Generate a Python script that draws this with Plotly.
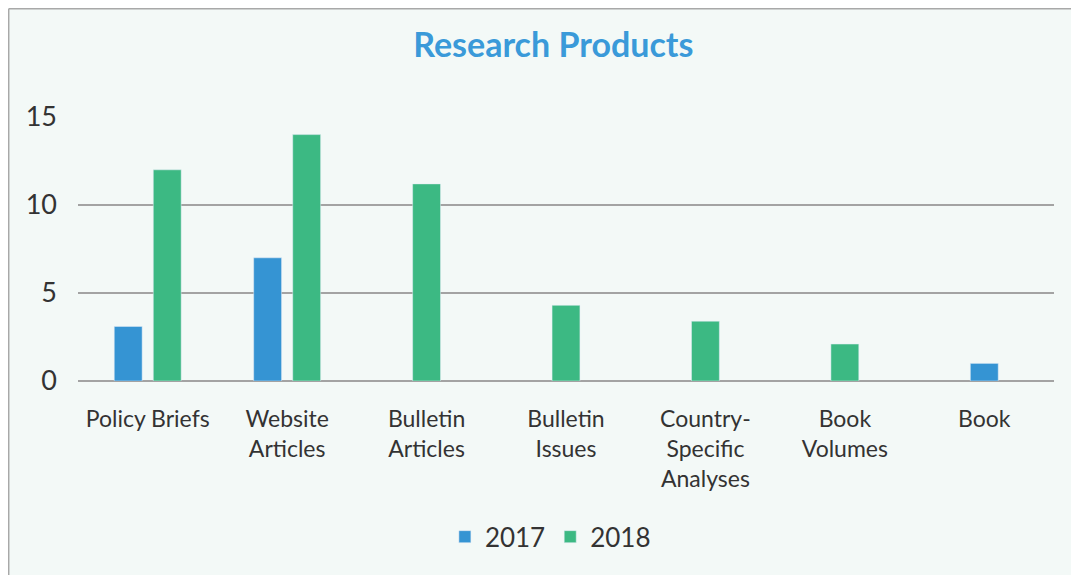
import plotly.graph_objects as go

# research products, counts per year
categories = ["Policy Briefs", "Website Articles", "Bulletin Articles", "Bulletin Issues",
              "Country-Specific Analyses", "Book Volumes", "Book"]
tick_labels = ["Policy Briefs", "Website<br>Articles", "Bulletin<br>Articles", "Bulletin<br>Issues",
               "Country-<br>Specific<br>Analyses", "Book<br>Volumes", "Book"]
vals_2017 = [3.1, 7, None, None, None, None, 1]
vals_2018 = [12, 14, 11.2, 4.3, 3.4, 2.1, None]

blue = "#3594d3"
green = "#3cb983"
bg = "#f3f9f7"
txt = "#333333"
font = "Lato"

# bar width / gap in category units; single bars get centred on their category
w = 0.2
gap = 0.08
off_2017 = []
off_2018 = []
for a, b in zip(vals_2017, vals_2018):
    if a is not None and b is not None:
        off_2017.append(-(w + gap / 2))
        off_2018.append(gap / 2)
    else:
        off_2017.append(-w / 2)
        off_2018.append(-w / 2)

fig = go.Figure()
fig.add_trace(go.Bar(x=categories, y=vals_2017, name="2017", marker_color=blue,
                     width=w, offset=off_2017))
fig.add_trace(go.Bar(x=categories, y=vals_2018, name="2018", marker_color=green,
                     width=w, offset=off_2018))

# thin grey border along the top and left edge of the panel
border = dict(color="#a8a8a8", width=1.5)
fig.add_shape(type="line", xref="paper", yref="paper",
              x0=-0.071, x1=1.1, y0=1.41, y1=1.41, line=border)
fig.add_shape(type="line", xref="paper", yref="paper",
              x0=-0.071, x1=-0.071, y0=-1, y1=1.41, line=border)

# page body adds an 8px margin, so the figure is 8px smaller than the window
fig.update_layout(
    width=1071, height=567,
    margin=dict(l=70, r=25, t=109, b=194),
    paper_bgcolor=bg,
    plot_bgcolor=bg,
    barmode="overlay",
    title=dict(text="<b>Research Products</b>", x=0.487, xref="paper", xanchor="center",
               y=0.935, yanchor="middle",
               font=dict(family=font, size=34, color="#3a9ad9")),
    font=dict(family=font, size=23, color=txt),
    showlegend=True,
    legend=dict(orientation="h", x=0.484, xanchor="center", y=-0.59, yanchor="middle",
                font=dict(family=font, size=26, color=txt), bgcolor="rgba(0,0,0,0)"),
    xaxis=dict(tickmode="array", tickvals=categories, ticktext=tick_labels,
               showgrid=False, showline=False, zeroline=False,
               ticks="", ticklabelstandoff=22,
               tickfont=dict(family=font, size=23, color=txt)),
    yaxis=dict(range=[0, 15], tickvals=[0, 5, 10, 15], showgrid=True,
               gridcolor="#a3a3a3", gridwidth=1.5, zeroline=True, zerolinecolor="#a3a3a3",
               zerolinewidth=1.5, showline=False, ticks="", ticklabelstandoff=20,
               tickfont=dict(family=font, size=27, color=txt)),
)

fig.write_html("out.html")
